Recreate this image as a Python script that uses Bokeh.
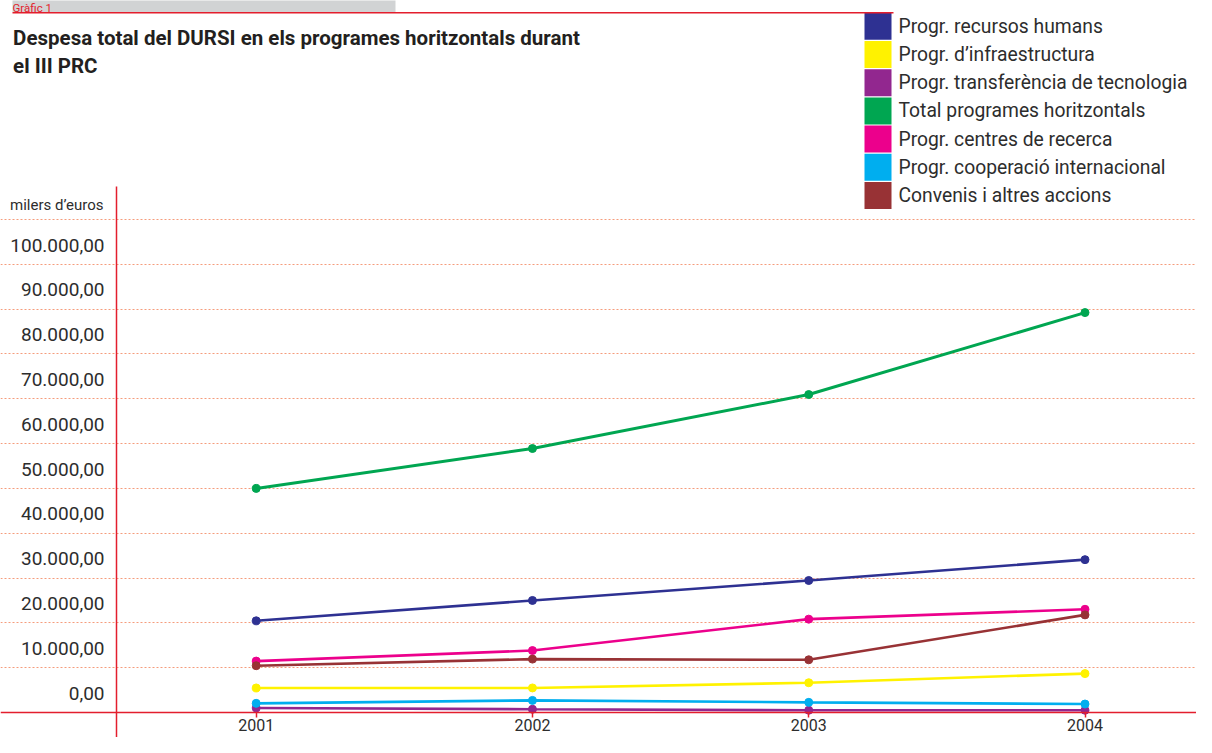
from bokeh.plotting import figure
from bokeh.models import (Range1d, LinearAxis, FixedTicker, Grid, Label, BoxAnnotation)
from bokeh.embed import file_html
from bokeh.resources import INLINE

# ---------------- data (milers d'euros) ----------------
years = [2001, 2002, 2003, 2004]
x_tick_labels = ["2001", "2002", "2003", "2004"]

recursos_humans = [20460, 25000, 29450, 34100]
infraestructura = [5480, 5480, 6640, 8680]
transferencia = [1010, 720, 500, 500]
total_horitzontals = [50000, 58900, 70940, 89230]
centres_recerca = [11470, 13820, 20830, 23030]
cooperacio = [2040, 2700, 2260, 1890]
convenis = [10440, 11910, 11760, 21780]

series_names = [
    "Progr. recursos humans",
    "Progr. d\u2019infraestructura",
    "Progr. transfer\u00e8ncia de tecnologia",
    "Total programes horitzontals",
    "Progr. centres de recerca",
    "Progr. cooperaci\u00f3 internacional",
    "Convenis i altres accions",
]
series_values = [recursos_humans, infraestructura, transferencia, total_horitzontals,
                 centres_recerca, cooperacio, convenis]
series_colors = ["#2e3192", "#fff200", "#92278f", "#00a651", "#ec008c", "#00aeef", "#983235"]

y_tick_values = [0, 10000, 20000, 30000, 40000, 50000, 60000, 70000, 80000, 90000, 100000]
y_tick_labels = ["0,00", "10.000,00", "20.000,00", "30.000,00", "40.000,00", "50.000,00",
                 "60.000,00", "70.000,00", "80.000,00", "90.000,00", "100.000,00"]
grid_values = [10000, 20000, 30000, 40000, 50000, 60000, 70000, 80000, 90000, 100000, 110000]

title_line1 = "Despesa total del DURSI en els programes horitzontals durant"
title_line2 = "el III PRC"
unit_label = "milers d\u2019euros"
header_label = "Gr\u00e0fic 1"

# ---------------- layout ----------------
FONT = "Roboto"
RED = "#e31e2d"
TEXT = "#2d2d2d"
W, H = 1196, 737

ZERO_Y = 712.0                      # canvas y (from top) of value 0
TOP_GRID_Y = 219.0                  # canvas y of the highest grid line
PX_PER_UNIT = (ZERO_Y - TOP_GRID_Y) / grid_values[-1]
X2001, X2004 = 255.7, 1084.5        # canvas x of first / last year
PX_PER_YEAR = (X2004 - X2001) / (years[-1] - years[0])

y_start = -(H - ZERO_Y) / PX_PER_UNIT
y_end = ZERO_Y / PX_PER_UNIT
axis_top = (ZERO_Y - 186) / PX_PER_UNIT
x_start = years[0] - X2001 / PX_PER_YEAR
x_end = x_start + W / PX_PER_YEAR
yaxis_x = years[0] - (X2001 - 116) / PX_PER_YEAR
LABEL_OFFSET = 4300

p = figure(width=W, height=H, x_range=Range1d(x_start, x_end), y_range=Range1d(y_start, y_end),
           x_axis_location=None, y_axis_location=None, toolbar_location=None,
           output_backend="svg", min_border=0, outline_line_color=None,
           background_fill_color="white", border_fill_color="white")
p.grid.visible = False

grid = Grid(dimension=1, ticker=FixedTicker(ticks=grid_values),
            grid_line_color="#f59c7c", grid_line_dash="2 2", grid_line_width=1.2)
p.add_layout(grid)

# y axis: labels sit between the grid lines, as in the source
yaxis = LinearAxis(fixed_location=yaxis_x, bounds=(y_start, axis_top),
                   ticker=FixedTicker(ticks=[v + LABEL_OFFSET for v in y_tick_values]),
                   major_label_overrides={v + LABEL_OFFSET: lab for v, lab in zip(y_tick_values, y_tick_labels)},
                   axis_line_color=RED, axis_line_width=1.5,
                   major_tick_in=0, major_tick_out=0, minor_tick_in=0, minor_tick_out=0,
                   major_label_standoff=12,
                   major_label_text_font=FONT, major_label_text_font_size="19px",
                   major_label_text_color=TEXT)
p.add_layout(yaxis, "left")

xaxis = LinearAxis(fixed_location=0,
                   ticker=FixedTicker(ticks=years),
                   major_label_overrides={y: lab for y, lab in zip(years, x_tick_labels)},
                   axis_line_color=RED, axis_line_width=1.5,
                   major_tick_in=0, major_tick_out=5, major_tick_line_color=RED,
                   major_tick_line_width=1.5,
                   minor_tick_in=0, minor_tick_out=0,
                   major_label_standoff=1,
                   major_label_text_font=FONT, major_label_text_font_size="16px",
                   major_label_text_color=TEXT)
p.add_layout(xaxis, "below")

for name, vals, color in zip(series_names, series_values, series_colors):
    lw = 3 if name.startswith("Total") else 2.6
    p.line(years, vals, line_color=color, line_width=lw)
    p.scatter(years, vals, size=8, fill_color=color, line_color=color)


def box(left, right, top, bottom, color):
    """screen-unit box, top/bottom given from the canvas top"""
    return BoxAnnotation(left=left, right=right, top=H - top, bottom=H - bottom,
                         left_units="screen", right_units="screen",
                         top_units="screen", bottom_units="screen",
                         fill_color=color, fill_alpha=1, line_color=None)


# legend (colour squares + names), top right
LEG_X, LEG_Y, LEG_STEP, SW = 864, 12.3, 28.2, 27
for i, (name, color) in enumerate(zip(series_names, series_colors)):
    top = LEG_Y + LEG_STEP * i
    p.add_layout(box(LEG_X, LEG_X + SW, top, top + SW, color))
    p.add_layout(Label(x=LEG_X + 34, y=H - (top + SW / 2), x_units="screen", y_units="screen",
                       text=name, text_font=FONT, text_font_size="19.3px", text_color=TEXT,
                       text_baseline="middle"))

# header band
p.add_layout(box(12, 395, -10, 11.7, "#d1d3d4"))
p.add_layout(box(12, 893, 11.6, 13.1, RED))
p.add_layout(Label(x=12, y=H - 0.5, x_units="screen", y_units="screen", text=header_label,
                   text_font=FONT, text_font_size="11.5px", text_color=RED,
                   text_baseline="top"))

# title
for i, line in enumerate([title_line1, title_line2]):
    p.add_layout(Label(x=12.6, y=H - 37 - 28 * i, x_units="screen", y_units="screen", text=line,
                       text_font=FONT, text_font_style="bold", text_font_size="20.5px",
                       text_color="#231f20", text_baseline="middle"))

p.add_layout(Label(x=103, y=H - 204, x_units="screen", y_units="screen", text=unit_label,
                   text_font=FONT, text_font_size="15px", text_color=TEXT,
                   text_align="right", text_baseline="middle"))

open("out.html", "w").write(file_html(p, INLINE))
